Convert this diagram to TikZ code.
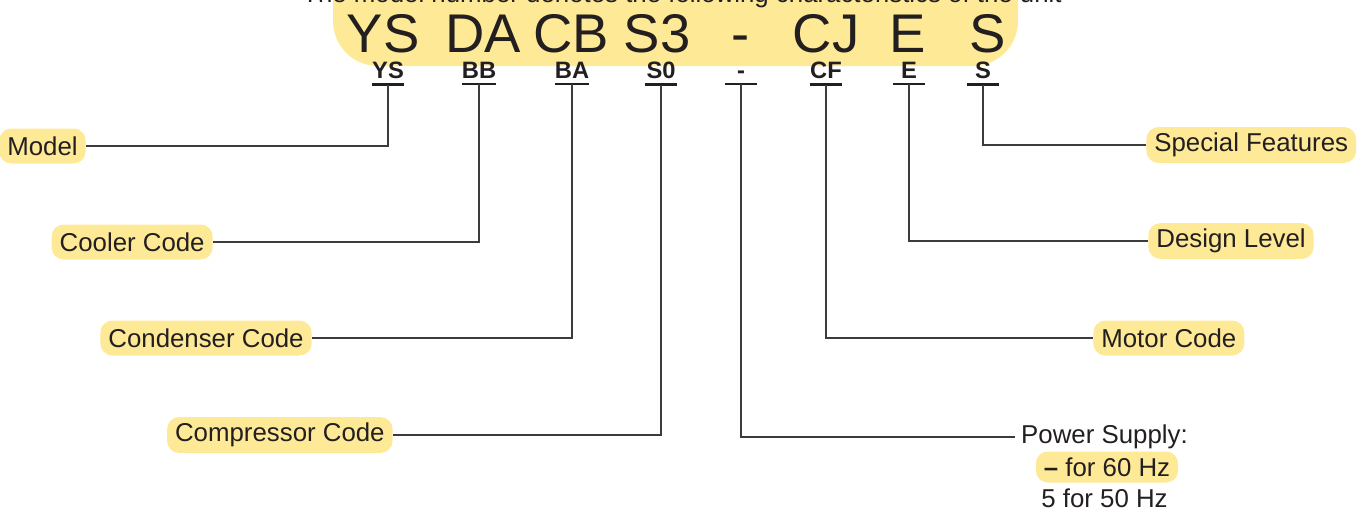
\documentclass[tikz,border=0pt]{standalone}
\usepackage{fontspec}
\setmainfont{Liberation Sans}
\usetikzlibrary{positioning}
\definecolor{banner}{RGB}{254,234,150}
\definecolor{ink}{RGB}{35,31,32}
\definecolor{wire}{RGB}{60,60,60}
\newcommand{\tagfont}{\fontsize{14.7}{17}\selectfont}
\tikzstyle{big}=[anchor=base,text=ink,inner sep=0pt,font=\fontsize{31}{31}\selectfont]
\tikzstyle{code}=[anchor=base,text=ink,font=\fontsize{13.5}{13.5}\selectfont\bfseries,minimum width=0.64cm,inner xsep=0pt,inner ysep=0.12cm]
\tikzstyle{tag}=[fill=banner,rounded corners=0.24cm,text=ink,font=\tagfont,minimum height=0.7cm,inner xsep=0.16cm]
\tikzstyle{lead}=[draw=wire,line width=0.8pt]
\tikzstyle{bar}=[draw=ink,line width=1.3pt]

\begin{document}
\begin{tikzpicture}[x=0.02cm,y=-0.02cm]
  \useasboundingbox (0,0) rectangle (1365,511);
  \clip (0,0) rectangle (1365,511);
  \fill[banner,rounded corners=0.9cm] (333,-40) rectangle (1018,66);
  \draw (682,2) node[anchor=base,text=ink,font=\tagfont] (title) {The model number denotes the following characteristics of the unit};

  %% Model number
  \draw (383,52) node[big] (nYS) {YS};
  \draw (483,52) node[big] (nDA) {DA};
  \draw (571,52) node[big] (nCB) {CB};
  \draw (657,52) node[big] (nS3) {S3};
  \draw (741,52) node[big] (nDash) {-};
  \draw (826,52) node[big] (nCJ) {CJ};
  \draw (908,52) node[big] (nE) {E};
  \draw (988,52) node[big] (nS) {S};

  %% Example codes
  \draw (388,78) node[code] (cYS) {YS};
  \draw (479,78) node[code] (cBB) {BB};
  \draw (572,78) node[code] (cBA) {BA};
  \draw (661,78) node[code] (cS0) {S0};
  \draw (741,78) node[code] (cDash) {-};
  \draw (826,78) node[code] (cCF) {CF};
  \draw (909,78) node[code] (cE) {E};
  \draw (983,78) node[code] (cS) {S};

  %% Meanings
  \draw (86,146) node[tag,anchor=east] (model) {Model};
  \draw (213,242) node[tag,anchor=east] (cooler) {Cooler Code};
  \draw (312,338) node[tag,anchor=east] (condenser) {Condenser Code};
  \draw (393,435) node[tag,anchor=east] (compressor) {Compressor Code};
  \draw (1146,145) node[tag,anchor=west] (special) {Special Features};
  \draw (1148,241) node[tag,anchor=west] (design) {Design Level};
  \draw (1093,338) node[tag,anchor=west] (motor) {Motor Code};
  \draw (1015,437) node[anchor=west,text=ink,font=\tagfont] (supply) {Power Supply:};
  \draw ([xshift=0.05cm,yshift=-0.6cm]supply.center) node[tag,minimum height=0.62cm] (hz60) {\textbf{–} for 60 Hz};
  \draw ([yshift=-1.22cm]supply.center) node[text=ink,font=\tagfont] (hz50) {5 for 50 Hz};

  \draw[bar] (cYS.south west) -- (cYS.south east);
  \draw[bar] (cBB.south west) -- (cBB.south east);
  \draw[bar] (cBA.south west) -- (cBA.south east);
  \draw[bar] (cS0.south west) -- (cS0.south east);
  \draw[bar] (cDash.south west) -- (cDash.south east);
  \draw[bar] (cCF.south west) -- (cCF.south east);
  \draw[bar] (cE.south west) -- (cE.south east);
  \draw[bar] (cS.south west) -- (cS.south east);

  \draw[lead] (cYS.south) |- (model);
  \draw[lead] (cBB.south) |- (cooler);
  \draw[lead] (cBA.south) |- (condenser);
  \draw[lead] (cS0.south) |- (compressor);
  \draw[lead] (cDash.south) |- (supply);
  \draw[lead] (cCF.south) |- (motor);
  \draw[lead] (cE.south) |- (design);
  \draw[lead] (cS.south) |- (special);
\end{tikzpicture}
\end{document}
